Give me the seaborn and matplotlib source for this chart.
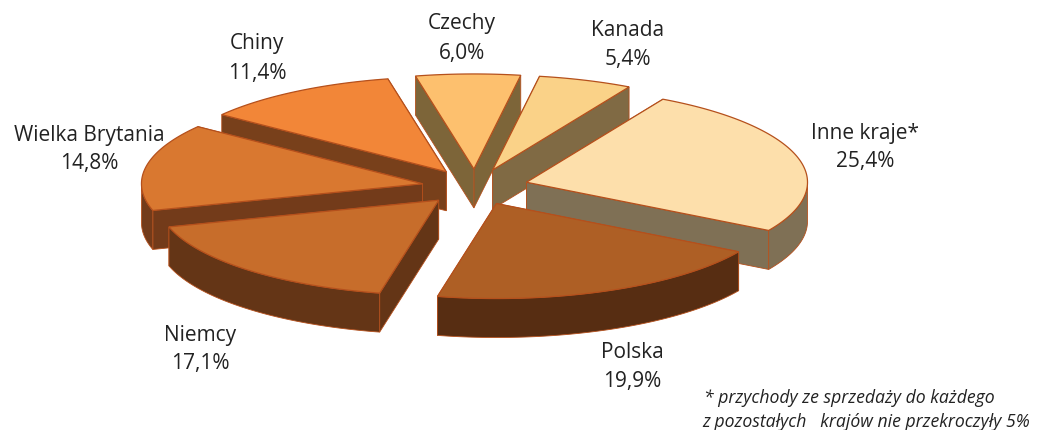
import numpy as np
import matplotlib
matplotlib.use("Agg")
import matplotlib.pyplot as plt
from matplotlib.patches import Polygon
import seaborn as sns

countries = ["Czechy", "Kanada", "Inne kraje*", "Polska", "Niemcy", "Wielka Brytania", "Chiny"]
shares = [6.0, 5.4, 25.4, 19.9, 17.1, 14.8, 11.4]
share_labels = ["6,0%", "5,4%", "25,4%", "19,9%", "17,1%", "14,8%", "11,4%"]
top_colors = ["#FDC06E", "#FAD288", "#FDDFAB", "#AE5F25", "#C76D2B", "#D97830", "#F28638"]
side_colors = ["#7D6539", "#806A44", "#7F7055", "#572D12", "#643516", "#733B1A", "#78401B"]
label_pos = [(462, 24), (628, 30), (865, 133), (632, 352), (200, 335), (89, 135), (257, 44)]
footnote = ["* przychody ze sprzedaży do każdego", "z pozostałych   krajów nie przekroczyły 5%"]

# pie geometry in pixels of the picture
cx, cy = 475, 187
rx, ry = 281, 95
depth = 39
explode = 0.19
first_angle = -12

sns.set_theme(style="white")
plt.rcParams["font.family"] = ["Open Sans", "DejaVu Sans"]
tops = sns.color_palette(top_colors)
sides = sns.color_palette(side_colors)
edge = "#B5501C"

fig, ax = plt.subplots(figsize=(10.64, 4.30), dpi=100)
ax.set_position([0, 0, 1, 1])
ax.set_xlim(0, 1064)
ax.set_ylim(430, 0)
ax.axis("off")


def to_xy(angle, x0, y0):
    # angle goes clockwise from the top of the pie
    a = np.radians(angle)
    return x0 + rx * np.sin(a), y0 - ry * np.cos(a)


def wedge(start, end, top, side):
    mid = (start + end) / 2
    x0 = cx + explode * rx * np.sin(np.radians(mid))
    y0 = cy - explode * ry * np.cos(np.radians(mid))
    angles = np.linspace(start, end, 80)
    rim_x, rim_y = to_xy(angles, x0, y0)

    faces = []
    for i in (0, -1):
        faces.append([(x0, y0), (rim_x[i], rim_y[i]), (rim_x[i], rim_y[i] + depth), (x0, y0 + depth)])
    # only the part of the rim that faces the viewer
    front = np.cos(np.radians(angles)) < 0
    if front.any():
        fx, fy = rim_x[front], rim_y[front]
        faces.append(list(zip(fx, fy)) + list(zip(fx[::-1], fy[::-1] + depth)))

    for face in sorted(faces, key=lambda f: np.mean([p[1] for p in f])):
        ax.add_patch(Polygon(face, closed=True, facecolor=side, edgecolor=edge, linewidth=0.6))
    pts = [(x0, y0)] + list(zip(rim_x, rim_y))
    ax.add_patch(Polygon(pts, closed=True, facecolor=top, edgecolor=edge, linewidth=0.9))


sweeps = np.array(shares) / sum(shares) * 360
starts = first_angle + np.concatenate([[0], np.cumsum(sweeps)[:-1]])
ends = starts + sweeps
mids = (starts + ends) / 2

# back slices first
for i in np.argsort(-np.cos(np.radians(mids))):
    wedge(starts[i], ends[i], tops[i], sides[i])

for name, val, (x, y) in zip(countries, share_labels, label_pos):
    ax.text(x, y, name, ha="center", va="center", fontsize=15, color="#222222")
    ax.text(x, y + 29, val, ha="center", va="center", fontsize=15, color="#222222")

ax.text(704, 398, footnote[0], ha="left", va="center", fontsize=12.7, style="italic", color="#222222")
ax.text(702, 422, footnote[1], ha="left", va="center", fontsize=12.7, style="italic", color="#222222")

plt.savefig("out.png", dpi=100)
